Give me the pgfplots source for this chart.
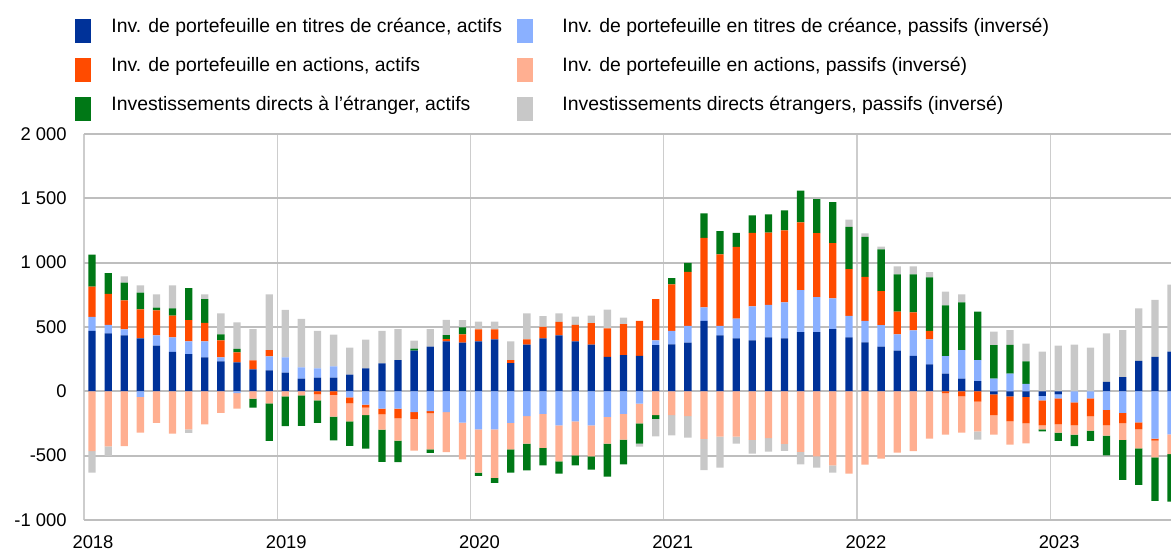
\documentclass[border=0pt]{standalone}
\usepackage{fontspec}
\setmainfont{Liberation Sans}
\usepackage{pgfplots}
\usepackage{pgfplotstable}
\pgfplotsset{compat=1.18}
\definecolor{c1}{RGB}{0,50,153}
\definecolor{c2}{RGB}{138,176,255}
\definecolor{c3}{RGB}{255,75,0}
\definecolor{c4}{RGB}{255,175,145}
\definecolor{c5}{RGB}{0,120,22}
\definecolor{c6}{RGB}{200,200,200}
\definecolor{gridh}{RGB}{190,190,190}
\definecolor{gridv}{RGB}{205,205,205}

\pgfplotstableread{
x db lb eq el fa fl
0.5 469 109 236 -464 249 -168
1.5 451 65 241 -427 161 -75
2.5 435 47 225 -425 137 49
3.5 412 -44 225 -277 130 57
4.5 355 80 194 -246 21 104
5.5 306 114 168 -329 57 179
6.5 290 98 166 -295 249 -28
7.5 264 124 145 -256 184 36
8.5 233 31 132 -168 47 163
9.5 225 -13 78 -122 26 207
10.5 171 0 70 -57 -70 243
11.5 163 109 49 -93 -293 433
12.5 145 119 0 -39 -231 370
13.5 98 88 0 -31 -238 378
14.5 106 73 -23 -47 -176 290
15.5 106 88 -28 -168 -186 246
16.5 130 -47 -47 -140 -189 210
17.5 179 -104 -23 -57 -262 223
18.5 218 -135 -44 -119 -251 251
19.5 243 -135 -75 -174 -166 241
20.5 316 -161 -54 -246 16 62
21.5 347 -153 -16 -282 -28 137
22.5 389 -161 16 -311 31 119
23.5 378 -243 65 -285 54 57
24.5 389 -295 93 -337 -26 60
25.5 404 -295 78 -378 -39 60
26.5 220 -246 23 -205 -181 145
27.5 363 -192 41 -215 -207 202
28.5 412 -176 88 -264 -135 85
29.5 435 -264 104 -280 -96 67
30.5 389 -233 127 -264 -78 65
31.5 363 -264 168 -241 -104 57
32.5 267 -199 223 -207 -256 145
33.5 282 -176 241 -199 -192 49
34.5 275 -96 272 -153 -158 -23
35.5 360 36 321 -184 -31 -135
36.5 365 104 363 -184 47 -158
37.5 378 130 420 -192 70 -168
38.5 547 106 539 -370 192 -243
39.5 435 73 557 -352 181 -241
40.5 412 153 557 -352 109 -54
41.5 396 264 572 -378 135 -106
42.5 420 251 562 -363 142 -106
43.5 412 280 559 -409 155 -54
44.5 461 326 526 -471 246 -96
45.5 461 272 497 -505 264 -88
46.5 484 238 430 -575 319 -57
47.5 420 166 363 -640 329 57
48.5 381 166 342 -570 311 28
49.5 347 168 264 -523 324 21
50.5 316 127 176 -477 290 62
51.5 275 199 140 -464 295 62
52.5 210 194 65 -368 417 41
53.5 137 137 -13 -324 394 106
54.5 98 223 -39 -282 370 62
55.5 80 163 -80 -231 376 -65
56.5 -23 98 -161 -153 262 104
57.5 -39 137 -194 -181 225 114
58.5 -44 57 -205 -155 176 137
59.5 -36 -34 -194 -31 -16 308
60.5 -23 -31 -202 -65 -65 355
61.5 0 -85 -179 -73 -88 363
62.5 0 -54 -140 -111 -80 339
63.5 73 -145 -119 -80 -153 378
64.5 111 -168 -80 -130 -311 365
65.5 236 -241 -54 -148 -285 409
66.5 267 -368 -16 -130 -337 443
67.5 308 -334 0 -155 -368 521
}\data

\pgfplotsset{
  base/.style={scale only axis, width=543.5pt, height=193pt,
    xmin=0, xmax=67.5, ymin=-1000, ymax=2000,
    ybar stacked, bar width=3.65pt},
  bs/.style={draw=none,
    legend image code/.code={\fill[##1] (0pt,-6pt) rectangle (8pt,6pt); \path[draw=none,fill=none] (0pt,0pt) (18pt,0pt);}},
}

\begin{document}
\begin{tikzpicture}
\begin{axis}[base, name=a,
  axis line style={draw=none}, major tick length=0pt,
  xtick={0,12,24,36,48,60}, xticklabels={2018,2019,2020,2021,2022,2023},
  ytick={-1000,-500,0,500,1000,1500,2000},
  yticklabels={-1 000,-500,0,500,1 000,1 500,2 000},
  xmajorgrids, ymajorgrids,
  x grid style={draw=gridv, line width=0.7pt},
  y grid style={draw=gridh, line width=0.9pt},
  xticklabel style={font=\fontsize{9.2}{11}\selectfont, anchor=north, inner sep=0pt, yshift=-7.5pt, xshift=4.5pt},
  yticklabel style={font=\fontsize{9.2}{11}\selectfont, anchor=east, inner sep=0pt, xshift=-8.5pt},
  legend columns=2, legend cell align=left,
  legend style={at={(0,1)}, anchor=north west, xshift=-4.5pt, yshift=58pt,
    draw=none, fill=none, inner sep=0pt, column sep=0pt, row sep=7.25pt,
    nodes={inner sep=0pt, yshift=2pt, font=\fontsize{9.7}{11.6}\selectfont}},
]
\addplot[bs, fill=c1] table[x=x, y expr={max(\thisrow{db},0)}] {\data};
\addplot[bs, fill=c2] table[x=x, y expr={max(\thisrow{lb},0)}] {\data};
\addplot[bs, fill=c3] table[x=x, y expr={max(\thisrow{eq},0)}] {\data};
\addplot[bs, fill=c4] table[x=x, y expr={max(\thisrow{el},0)}] {\data};
\addplot[bs, fill=c5] table[x=x, y expr={max(\thisrow{fa},0)}] {\data};
\addplot[bs, fill=c6] table[x=x, y expr={max(\thisrow{fl},0)}] {\data};
\legend{{\makebox[203pt][l]{Inv. de portefeuille en titres de créance, actifs}},
  {\hspace*{4.5pt}Inv. de portefeuille en titres de créance, passifs (inversé)},
  {\makebox[203pt][l]{Inv. de portefeuille en actions, actifs}},
  {\hspace*{4.5pt}Inv. de portefeuille en actions, passifs (inversé)},
  {\makebox[203pt][l]{Investissements directs à l’étranger, actifs}},
  {\hspace*{4.5pt}Investissements directs étrangers, passifs (inversé)}}
\end{axis}
\begin{axis}[base, hide axis]
\addplot[bs, fill=c1] table[x=x, y expr={min(\thisrow{db},0)}] {\data};
\addplot[bs, fill=c2] table[x=x, y expr={min(\thisrow{lb},0)}] {\data};
\addplot[bs, fill=c3] table[x=x, y expr={min(\thisrow{eq},0)}] {\data};
\addplot[bs, fill=c4] table[x=x, y expr={min(\thisrow{el},0)}] {\data};
\addplot[bs, fill=c5] table[x=x, y expr={min(\thisrow{fa},0)}] {\data};
\addplot[bs, fill=c6] table[x=x, y expr={min(\thisrow{fl},0)}] {\data};
\end{axis}
\pgfresetboundingbox
\path ([xshift=-42pt,yshift=67pt]a.north west) rectangle ([yshift=-15.5pt]a.south east);
\end{tikzpicture}
\end{document}
